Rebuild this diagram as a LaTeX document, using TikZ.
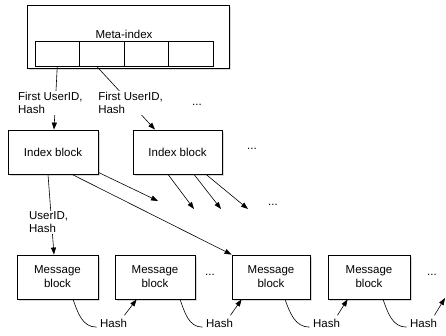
\documentclass[tikz,border=0pt]{standalone}
\usepackage{fontspec}
\setmainfont{Liberation Sans}
\usetikzlibrary{arrows.meta,shadows}

\begin{document}
\begin{tikzpicture}[%
      x=1pt, y=-1pt,
      font=\fontsize{11.5}{14}\selectfont,
      blockbox/.style={draw, line width=0.8pt, fill=white, minimum height=44pt,
        align=center, drop shadow={opacity=0.3, shadow xshift=2pt, shadow yshift=-2pt}},
      cellbox/.style={draw, line width=0.8pt, minimum width=44.5pt, minimum height=25pt,
        inner sep=0pt},
      link/.style={line width=0.6pt},
      arr/.style={link, -{Triangle[length=7pt,width=5pt]}},
      lbl/.style={fill=white, align=left, inner sep=1pt, font=\fontsize{11.5}{13}\selectfont},
      ]
      \useasboundingbox (0,0) rectangle (446,336);

      % meta-index with its cells
      \node [blockbox, minimum width=202pt, minimum height=63pt] (meta) at (128,36.5) {};
      \node (metalabel) at (124,34) {Meta-index};
      \foreach \i in {1,...,4}
        \node [cellbox] (cell\i) at ({35+44.5*(\i-0.5)},53.5) {};

      % index blocks
      \node [blockbox, minimum width=90pt] (idx1) at (53,152) {Index block};
      \node [blockbox, minimum width=89pt] (idx2) at (177.5,152) {Index block};

      % message blocks
      \node [blockbox, minimum width=81pt] (msg1) at (57.5,277) {Message\\block};
      \node [blockbox, minimum width=80pt] (msg2) at (155,277) {Message\\block};
      \node [blockbox, minimum width=78pt] (msg3) at (271,277) {Message\\block};
      \node [blockbox, minimum width=82pt] (msg4) at (369,277) {Message\\block};

      \node (dotsmeta) at (197,105) {...};
      \node (dotsidx) at (252,149) {...};
      \node (dotsfan) at (273,205) {...};
      \node (dotsmsga) at (210,275) {...};
      \node (dotsmsgb) at (432,275) {...};

      \node (hash1) at (113.5,323) {Hash};
      \node (hash2) at (219.5,323) {Hash};
      \node (hash3) at (326.5,323) {Hash};
      \node (hash4) at (423.5,323) {Hash};

      % meta-index to index blocks
      \draw [arr] (cell1.south) -- ([xshift=1pt]idx1.north)
        node [lbl, pos=0.58, xshift=-5pt] {First UserID,\\Hash};
      \draw [arr] ([xshift=-5pt]cell2.south) -- ([xshift=-22.5pt]idx2.north)
        node [lbl, pos=0.58] {First UserID,\\Hash};

      % index blocks to message blocks
      \draw [arr] ([xshift=-5pt]idx1.south) -- ([xshift=-3.5pt]msg1.north)
        node [lbl, pos=0.6, xshift=-3pt] {UserID,\\Hash};
      \draw [arr] ([xshift=19pt]idx1.south) -- (msg3.north west);
      \coordinate (free1) at (158,201);
      \draw [arr] ([yshift=2pt]idx1.south east) -- (free1);
      \foreach \s/\e [count=\i] in {-9.5/194, 16.5/221, 28.5/248} {
        \coordinate (fan\i) at (\e,209);
        \draw [arr] ([xshift=\s]idx2.south) -- (fan\i);
      }

      % hash chain
      \draw [link] ([xshift=15.5pt]msg1.south) to [out=-70, in=180] (hash1.base west);
      \draw [link] ([xshift=25pt]msg2.south) to [out=-70, in=180] (hash2.base west);
      \draw [link] ([xshift=14pt]msg3.south) to [out=-70, in=180] (hash3.base west);
      \draw [link] ([xshift=14pt]msg4.south) to [out=-70, in=180] (hash4.base west);
      \draw [arr] ([xshift=-6pt]hash1.north east) -- ([xshift=22pt]msg2.south west);
      \draw [arr] ([xshift=-6pt]hash2.north east) -- ([xshift=10pt]msg3.south west);
      \draw [arr] ([xshift=-6pt]hash3.north east) -- ([xshift=20pt]msg4.south west);
      \coordinate (free2) at (445,298);
      \draw [arr] ([xshift=-6pt]hash4.north east) -- (free2);
\end{tikzpicture}
\end{document}
